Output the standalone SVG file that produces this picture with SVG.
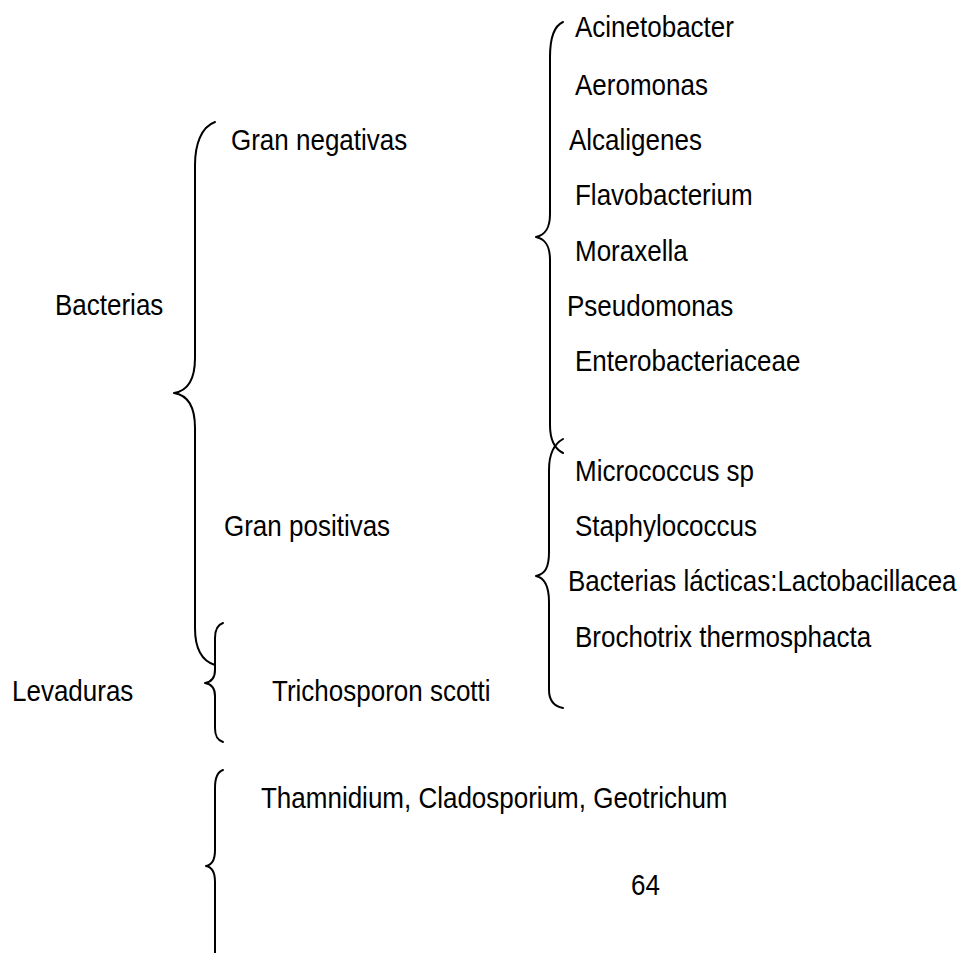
<svg xmlns="http://www.w3.org/2000/svg" width="959" height="953" viewBox="0 0 959 953">
  <style>
    .lbl { font-family: "Liberation Sans", Arial, sans-serif; font-size: 26px; fill: #000; }
    .brace { fill: none; stroke: #000; stroke-width: 2; stroke-linecap: round; stroke-linejoin: round; }
  </style>
  <rect width="959" height="953" fill="#fff"/>

  <!-- curly braces grouping the classification -->
  <g id="connectors">
    <path class="brace" d="M215,122 C201,127 195,145 195,165 L195,358 C195,380 187,391 174,393 C187,395 195,406 195,428 L195,628 C195,650 202,661 215,665"/>
    <path class="brace" d="M223,623 C217,625 215,630 215,638 L215,670 C215,678 211,682 205,683 C211,684 215,688 215,696 L215,728 C215,736 217,740 223,742"/>
    <path class="brace" d="M563,22 C554,26 550,38 550,57 L550,214 C550,229 545,235 536,237 C545,239 550,245 550,260 L550,425 C550,440 555,449 563,453"/>
    <path class="brace" d="M563,439 C554,444 549,455 549,470 L549,552 C549,568 545,574 536,576 C545,578 549,586 549,602 L549,690 C549,700 553,706 563,708"/>
    <path class="brace" d="M223,770 C217,772 215,778 215,788 L215,850 C215,860 212,865 206,866 C212,867 215,872 215,882 L215,955"/>
  </g>

  <g id="bacterias"><text class="lbl" transform="matrix(1,0,0,1.17,55,315)">Bacterias</text></g>
  <g id="levaduras"><text class="lbl" transform="matrix(1,0,0,1.17,12,701)">Levaduras</text></g>

  <g id="gran-negativas"><text class="lbl" transform="matrix(1,0,0,1.17,231,150)">Gran negativas</text></g>
  <g id="gran-positivas"><text class="lbl" transform="matrix(1,0,0,1.17,224,536)">Gran positivas</text></g>
  <g id="trichosporon"><text class="lbl" transform="matrix(1,0,0,1.17,272,701)">Trichosporon scotti</text></g>
  <g id="mohos"><text class="lbl" transform="matrix(1,0,0,1.17,261,808)">Thamnidium, Cladosporium, Geotrichum</text></g>

  <g id="acinetobacter"><text class="lbl" transform="matrix(1,0,0,1.17,575,37)">Acinetobacter</text></g>
  <g id="aeromonas"><text class="lbl" transform="matrix(1,0,0,1.17,575,95)">Aeromonas</text></g>
  <g id="alcaligenes"><text class="lbl" transform="matrix(1,0,0,1.17,569,150)">Alcaligenes</text></g>
  <g id="flavobacterium"><text class="lbl" transform="matrix(1,0,0,1.17,575,205)">Flavobacterium</text></g>
  <g id="moraxella"><text class="lbl" transform="matrix(1,0,0,1.17,575,261)">Moraxella</text></g>
  <g id="pseudomonas"><text class="lbl" transform="matrix(1,0,0,1.17,567,316)">Pseudomonas</text></g>
  <g id="enterobacteriaceae"><text class="lbl" transform="matrix(1,0,0,1.17,575,371)">Enterobacteriaceae</text></g>

  <g id="micrococcus"><text class="lbl" transform="matrix(1,0,0,1.17,575,481)">Micrococcus sp</text></g>
  <g id="staphylococcus"><text class="lbl" transform="matrix(1,0,0,1.17,575,536)">Staphylococcus</text></g>
  <g id="lacticas"><text class="lbl" transform="matrix(1,0,0,1.17,568,591)">Bacterias lácticas:Lactobacillacea</text></g>
  <g id="brochotrix"><text class="lbl" transform="matrix(1,0,0,1.17,575,647)">Brochotrix thermosphacta</text></g>

  <g id="pagina"><text class="lbl" transform="matrix(1,0,0,1.17,631,895)">64</text></g>
</svg>
